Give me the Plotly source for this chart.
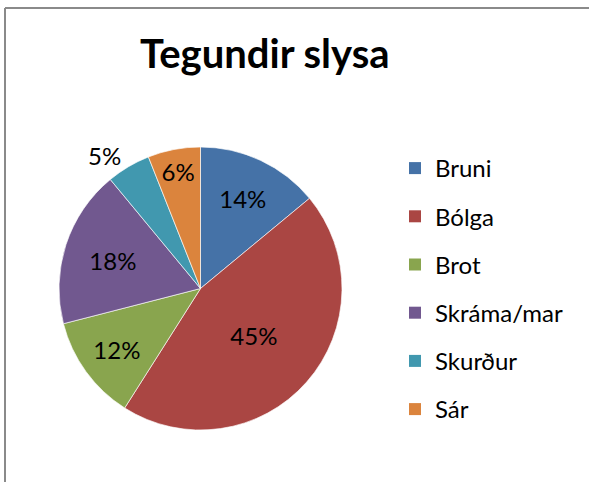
import plotly.graph_objects as go

categories = ["Bruni", "Bólga", "Brot", "Skráma/mar", "Skurður", "Sár"]
values = [14, 45, 12, 18, 5, 6]
colors = ["#4572A7", "#AA4643", "#89A54E", "#71588F", "#4198AF", "#DB843D"]
label_pos = ["inside", "inside", "inside", "inside", "outside", "inside"]
title_text = "Tegundir slysa"

W, H = 589, 482
FONT = "Lato"

fig = go.Figure()
fig.add_trace(go.Pie(
    labels=categories,
    values=values,
    marker=dict(colors=colors, line=dict(color="rgba(255,255,255,0.8)", width=0.8)),
    sort=False,
    direction="clockwise",
    rotation=0,
    texttemplate="%{percent:.0%}",
    textposition=label_pos,
    insidetextorientation="horizontal",
    textfont=dict(family=FONT, size=24, color="black"),
    outsidetextfont=dict(family=FONT, size=24, color="black"),
    showlegend=False,
    hoverinfo="label+percent",
    domain=dict(x=[59 / W, 342 / W], y=[1 - 430 / H, 1 - 147 / H]),
))

for cat, col in zip(categories, colors):
    fig.add_trace(go.Scatter(
        x=[None], y=[None], mode="markers", name=cat,
        marker=dict(symbol="square", size=15, color=col, line=dict(width=0)),
        legendgroup=cat, showlegend=True,
    ))

border = dict(color="#8a8a8a", width=2)
fig.update_layout(
    width=W, height=H,
    margin=dict(l=0, r=0, t=0, b=0),
    paper_bgcolor="white", plot_bgcolor="white",
    xaxis=dict(visible=False), yaxis=dict(visible=False),
    showlegend=True,
    legend=dict(
        x=395 / W, y=1 - 146 / H, xanchor="left", yanchor="top",
        font=dict(family=FONT, size=24, color="black"),
        traceorder="grouped", tracegroupgap=14,
        itemsizing="constant", bgcolor="rgba(0,0,0,0)",
    ),
    annotations=[dict(
        text="<b>" + title_text + "</b>", x=264.5 / W, y=1 - 53 / H,
        xref="paper", yref="paper", xanchor="center", yanchor="middle",
        showarrow=False, font=dict(family=FONT, size=40, color="black"),
    )],
    shapes=[
        dict(type="line", xref="paper", yref="paper",
             x0=5 / W, x1=5 / W, y0=-0.05, y1=1 - 8 / H, line=border, layer="above"),
        dict(type="line", xref="paper", yref="paper",
             x0=5 / W, x1=1.0, y0=1 - 8 / H, y1=1 - 8 / H, line=border, layer="above"),
    ],
)

fig.write_html(
    "out.html",
    config={"displayModeBar": False},
    post_script="document.body.style.margin='0';document.body.style.overflow='hidden';",
)
